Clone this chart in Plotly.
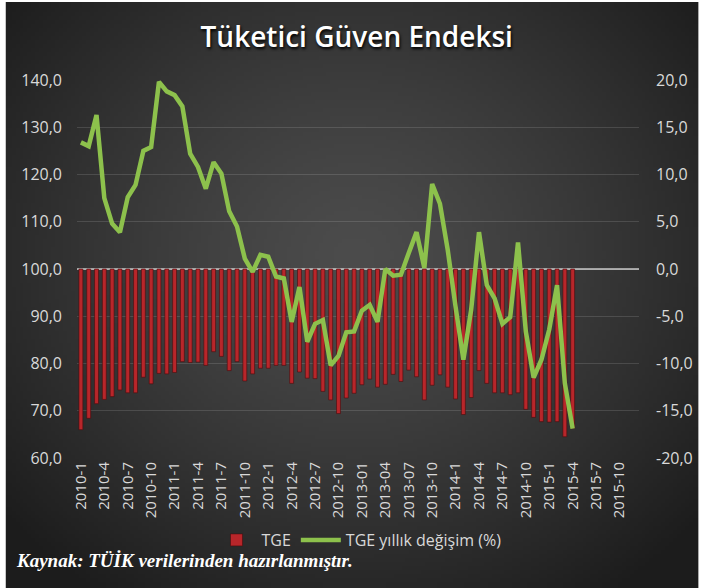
import base64, struct, zlib
import numpy as np
import plotly.graph_objects as go

# ---------------- data ----------------
years = [2010, 2011, 2012, 2013, 2014, 2015]
months = list(range(1, 13))
categories = [f"{y}-{m}" for y in years for m in months]  # 72 monthly slots

tge = [66.0, 68.4, 71.5, 72.4, 73.0, 74.4, 73.8, 73.8, 77.1, 75.7, 77.9, 77.8,
       78.1, 80.4, 80.2, 80.3, 79.6, 82.5, 81.5, 78.5, 80.4, 76.3, 77.8, 79.0,
       79.0, 79.6, 79.6, 75.8, 78.2, 76.9, 76.8, 74.1, 72.3, 69.4, 72.7, 73.7,
       75.5, 76.7, 75.0, 75.6, 77.7, 76.2, 78.6, 77.2, 72.3, 75.4, 77.6, 75.0,
       72.5, 69.2, 72.8, 78.5, 75.8, 73.8, 73.8, 73.4, 73.8, 70.3, 68.6, 67.7,
       67.6, 67.7, 64.5, 66.3]

tge_change = [13.4, 13.0, 16.3, 7.5, 4.8, 3.9, 7.6, 8.9, 12.5, 12.9, 19.8, 18.8,
              18.4, 17.2, 12.2, 10.8, 8.5, 11.3, 10.1, 6.1, 4.5, 1.1, -0.3, 1.5,
              1.3, -0.8, -1.0, -5.6, -1.9, -7.7, -5.8, -5.4, -10.2, -9.2, -6.7, -6.6,
              -4.4, -3.8, -5.6, 0.0, -0.7, -0.6, 1.7, 3.9, 0.1, 9.0, 6.9, 2.0,
              -4.0, -9.6, -4.3, 3.9, -1.7, -3.1, -5.8, -5.1, 2.8, -6.6, -11.5, -9.6,
              -6.4, -1.7, -12.1, -16.9]

x_tick_labels = ["2010-1", "2010-4", "2010-7", "2010-10", "2011-1", "2011-4", "2011-7", "2011-10",
                 "2012-1", "2012-4", "2012-7", "2012-10", "2013-01", "2013-04", "2013-07", "2013-10",
                 "2014-1", "2014-4", "2014-7", "2014-10", "2015-1", "2015-4", "2015-7", "2015-10"]
left_ticks = [60, 70, 80, 90, 100, 110, 120, 130, 140]
left_tick_text = ["60,0", "70,0", "80,0", "90,0", "100,0", "110,0", "120,0", "130,0", "140,0"]
right_ticks = [-20, -15, -10, -5, 0, 5, 10, 15, 20]
right_tick_text = ["-20,0", "-15,0", "-10,0", "-5,0", "0,0", "5,0", "10,0", "15,0", "20,0"]

BASE = 100
x_bar = categories[:len(tge)]
x_line = categories[:len(tge_change)]
x_tickvals = categories[::3]

# ---------------- background gradient (decorative) ----------------
W, H = 176, 147
yy, xx = np.mgrid[0:H, 0:W].astype(float)
cx, cy = W * 0.50, H * 0.43
r = np.sqrt(((xx - cx) / (W * 0.62)) ** 2 + ((yy - cy) / (H * 0.66)) ** 2)
val = np.clip(76 - 44 * np.clip(r, 0, 1.3) ** 1.3, 28, 80)
img = np.repeat(val[:, :, None], 3, axis=2).astype(np.uint8)
raw = b"".join(b"\x00" + img[i].tobytes() for i in range(H))


def _chunk(t, d):
    return struct.pack(">I", len(d)) + t + d + struct.pack(">I", zlib.crc32(t + d) & 0xffffffff)


png = (b"\x89PNG\r\n\x1a\n" + _chunk(b"IHDR", struct.pack(">IIBBBBB", W, H, 8, 2, 0, 0, 0))
       + _chunk(b"IDAT", zlib.compress(raw, 9)) + _chunk(b"IEND", b""))
bg_uri = "data:image/png;base64," + base64.b64encode(png).decode()

# ---------------- figure ----------------
FIG_W, FIG_H = 705, 588
ML, MR, MT, MB = 77, 60, 80, 130
PW, PH = FIG_W - ML - MR, FIG_H - MT - MB

fig = go.Figure()
fig.add_trace(go.Bar(
    x=x_bar, y=[v - BASE for v in tge], base=BASE, name="TGE",
    marker=dict(color="#b8262a", line=dict(color="#4a0c0d", width=0.6)),
    width=0.5, hoverinfo="skip",
))
fig.add_trace(go.Scatter(
    x=x_line, y=tge_change, name="TGE yıllık değişim (%)", yaxis="y2",
    mode="lines", line=dict(color="#8dc14c", width=4.5), hoverinfo="skip",
))

tick_font = dict(family="Open Sans, sans-serif", size=16, color="#d9d9d9")

fig.update_layout(
    width=FIG_W, height=FIG_H,
    margin=dict(l=ML, r=MR, t=MT, b=MB, pad=0),
    paper_bgcolor="#ffffff", plot_bgcolor="rgba(0,0,0,0)",
    showlegend=True, bargap=0.5,
    title=dict(text="Tüketici Güven Endeksi", x=0.506, xanchor="center",
               y=1 - 37 / FIG_H, yanchor="middle",
               font=dict(family="Open Sans, sans-serif", size=28, weight=600, color="#ffffff",
                         shadow="1px 2px 3px #000000")),
    xaxis=dict(type="category", categoryorder="array", categoryarray=categories,
               range=[-0.5, len(categories) - 0.5],
               tickmode="array", tickvals=x_tickvals, ticktext=x_tick_labels,
               tickangle=-90, tickfont=dict(family="Open Sans, sans-serif", size=15, color="#d9d9d9"),
               showgrid=False, showline=False, ticks="", zeroline=False),
    yaxis=dict(range=[60, 140], tickmode="array", tickvals=left_ticks, ticktext=left_tick_text,
               tickfont=tick_font, gridcolor="rgba(255,255,255,0.13)", gridwidth=1,
               zeroline=False, showline=False, ticks="", ticklabelstandoff=14),
    yaxis2=dict(range=[-20, 20], overlaying="y", side="right", tickmode="array",
                tickvals=right_ticks, ticktext=right_tick_text, tickfont=tick_font,
                showgrid=False, zeroline=False, showline=False, ticks="", ticklabelstandoff=16),
    legend=dict(orientation="h", x=(362 - ML) / PW, xanchor="center",
                y=-(540 - (FIG_H - MB)) / PH, yanchor="middle",
                font=dict(family="Open Sans, sans-serif", size=16, color="#d9d9d9"),
                bgcolor="rgba(0,0,0,0)", itemwidth=40),
    images=[dict(source=bg_uri, xref="paper", yref="paper",
                 x=(5 - ML) / PW, y=(FIG_H - MB - 2) / PH,
                 sizex=(FIG_W - 5) / PW, sizey=(FIG_H - 2) / PH,
                 xanchor="left", yanchor="top", sizing="stretch", layer="below")],
    shapes=[dict(type="line", xref="paper", yref="y", x0=0, x1=1, y0=BASE, y1=BASE,
                 line=dict(color="#c8c8c8", width=1.5), layer="below")],
    annotations=[dict(text="<b><i>Kaynak: TÜİK verilerinden hazırlanmıştır.</i></b>",
                      xref="paper", yref="paper", x=(13 - ML) / PW, xanchor="left",
                      y=-(560 - (FIG_H - MB)) / PH, yanchor="middle", showarrow=False,
                      font=dict(family="Liberation Serif, serif", size=19, color="#ffffff"))],
)

fig.write_html("out.html", config={"displayModeBar": False},
               post_script="document.body.style.margin='0';")
